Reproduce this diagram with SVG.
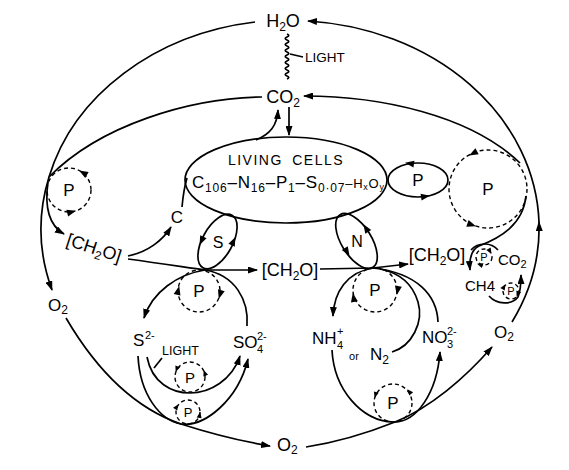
<svg xmlns="http://www.w3.org/2000/svg" width="569" height="470" viewBox="0 0 569 470">
<defs>
<style>
.l{fill:none;stroke:#000;stroke-width:1.7}
.d{fill:none;stroke:#000;stroke-width:1.4;stroke-dasharray:4 3}
.t{font-family:"Liberation Sans",Arial,sans-serif;fill:#000}
.m{marker-end:url(#a)}
</style>
<marker id="a" viewBox="0 0 10 7" refX="9" refY="3.5" markerWidth="10" markerHeight="7" markerUnits="userSpaceOnUse" orient="auto"><path d="M0,0 L10,3.5 L0,7 z"/></marker>
<path id="h" d="M1,0 L-8,-3.5 L-8,3.5 z"/>
<path id="hs" d="M1,0 L-5,-2.5 L-5,2.5 z"/>
</defs>
<rect width="569" height="470" fill="#fff"/>

<g id="connectors">
<!-- outer ellipse arcs -->
<path class="l" d="M255,22 A249,208 0 0 0 49,177"/>
<path class="l m" d="M49,177 A249,208 0 0 0 52,290"/>
<path class="l m" d="M512,322 A249,208 0 0 0 539,222"/>
<path class="l m" d="M539,222 A249,208 0 0 0 308,21"/>
<!-- CO2 arcs -->
<path class="l" d="M262,97 C190,98 100,125 49,177"/>
<path class="l m" d="M520,163 C470,115 380,96 304,96"/>
<!-- light wavy -->
<path class="l" stroke-width="1.2" d="M287,34 q3.5,1.5 0,3 t0,3 t0,3 t0,3 t0,3 t0,3 t0,3 t0,3 t0,3 t0,3 t0,3 t0,3 t0,3 t0,3 t0,3"/>
<path class="l" stroke-width="1" d="M290,54 L303,57"/>
<!-- CO2 <-> cells -->
<path class="l m" d="M256,140 C270,134 277,126 278,110"/>
<path class="l m" d="M289,107 L289,135"/>
<!-- left photosynthesis -->
<path class="l m" d="M48,182 C44,210 50,226 64,234"/>
<path class="l m" d="M128,256 C148,252 163,240 171,227"/>
<path class="l" d="M182,207 C183,196 184,188 187,178"/>
<path class="l m" d="M128,259 C165,264 190,268 205,270 L257,270"/>
<!-- S loop -->
<path class="l m" d="M205,270 C178,274 152,292 144,318"/>
<path class="l" d="M247,326 C249,300 235,275 205,270"/>
<path class="l m" d="M147,357 C152,383 172,393 190,393 C210,393 232,380 240,356"/>
<path class="l m" d="M138,356 C140,395 160,420 181,424 C205,427 238,400 248,359"/>
<path class="l" stroke-width="1" d="M162,358 L154,368"/>
<path class="l m" d="M66,318 C100,376 140,410 181,424 C212,434 240,441 270,446"/>
<!-- middle -->
<path class="l m" d="M320,269 L373,268 L408,264"/>
<!-- N loop -->
<path class="l m" d="M373,268 C347,272 334,292 333,316"/>
<path class="l" d="M438,322 C437,296 418,273 373,268"/>
<path class="l" d="M392,352 C412,346 424,322 418,302 C413,285 400,273 380,269"/>
<path class="l m" d="M332,350 C334,390 362,421 393,422 C417,423 437,392 440,352"/>
<path class="l m" d="M306,447 C345,441 375,430 395,422 C430,408 465,378 492,347"/>
<!-- methane -->
<path class="l m" d="M526,196 C523,225 500,238 479,246 C471,250 469,258 470,270"/>
<path class="l" d="M471,250 C478,242 491,242 498,250"/>
<path class="l m" d="M489,296 C497,305 512,305 518,297 C521,290 521,283 521,275"/>
<!-- ellipse arrowheads -->
<use href="#h" transform="translate(200,244) rotate(115)"/>
<use href="#h" transform="translate(235,238) rotate(-65)"/>
<use href="#h" transform="translate(349,255) rotate(58)"/>
<use href="#h" transform="translate(364,225) rotate(-122)"/>
<use href="#h" transform="translate(406,163) rotate(188)"/>
<use href="#h" transform="translate(429,196) rotate(-8)"/>
<!-- dashed circle arrowheads -->
<use href="#h" transform="translate(80,171) rotate(-150)"/>
<use href="#h" transform="translate(75,211) rotate(-15)"/>
<use href="#h" transform="translate(470,155) rotate(152)"/>
<use href="#h" transform="translate(475,226) rotate(19)"/>
<use href="#h" transform="translate(179,287) rotate(-76)"/>
<use href="#h" transform="translate(219,298) rotate(107)"/>
<use href="#hs" transform="translate(176,371) rotate(110)"/>
<use href="#hs" transform="translate(204,371) rotate(-110)"/>
<use href="#hs" transform="translate(178,405) rotate(-55)"/>
<use href="#hs" transform="translate(200,413) rotate(-80)"/>
<use href="#h" transform="translate(353,294) rotate(-100)"/>
<use href="#h" transform="translate(397,294) rotate(100)"/>
<use href="#hs" transform="translate(375,397) rotate(105)"/>
<use href="#hs" transform="translate(408,390) rotate(-130)"/>
<use href="#hs" transform="translate(491,253) rotate(60)"/>
<use href="#hs" transform="translate(478,264) rotate(200)"/>
<use href="#hs" transform="translate(505,285) rotate(-60)"/>
<use href="#hs" transform="translate(517,296) rotate(110)"/>
</g>

<g id="h2o"><text class="t" x="283" y="27" font-size="18" text-anchor="middle">H<tspan font-size="12" dy="4">2</tspan><tspan dy="-4">O</tspan></text></g>
<g id="light-top"><text class="t" x="305" y="62" font-size="13.5">LIGHT</text></g>
<g id="co2"><text class="t" x="283" y="103" font-size="18" text-anchor="middle">CO<tspan font-size="12" dy="4">2</tspan></text></g>

<g id="living-cells">
<ellipse class="l" cx="286" cy="180" rx="101" ry="43"/>
<text class="t" x="286" y="165" font-size="14" text-anchor="middle" letter-spacing="1.5" word-spacing="4">LIVING CELLS</text>
<text class="t" x="192" y="188" font-size="17" textLength="192" lengthAdjust="spacing">C<tspan font-size="12" dy="4">106</tspan><tspan dy="-4">–N</tspan><tspan font-size="12" dy="4">16</tspan><tspan dy="-4">–P</tspan><tspan font-size="12" dy="4">1</tspan><tspan dy="-4">–S</tspan><tspan font-size="12" dy="4">0·07</tspan><tspan dy="-4" font-size="13">–H</tspan><tspan font-size="9" dy="2">x</tspan><tspan font-size="13" dy="-2">O</tspan><tspan font-size="9" dy="2">y</tspan></text>
</g>

<g id="p-left"><circle class="d" cx="69" cy="190" r="22"/><text class="t" x="69" y="196" font-size="17" text-anchor="middle">P</text></g>
<g id="p-ellipse"><ellipse class="l" cx="418" cy="180" rx="30" ry="17"/><text class="t" x="418" y="186" font-size="17" text-anchor="middle">P</text></g>
<g id="p-right"><circle class="d" cx="488" cy="189" r="39"/><text class="t" x="488" y="195" font-size="17" text-anchor="middle">P</text></g>

<g id="ch2o-left"><text class="t" x="94" y="254" font-size="18" text-anchor="middle" transform="rotate(18 94 248)">[CH<tspan font-size="12" dy="4">2</tspan><tspan dy="-4">O]</tspan></text></g>
<g id="c-label"><text class="t" x="177" y="223" font-size="17" text-anchor="middle">C</text></g>

<g id="s-ellipse"><ellipse class="l" cx="0" cy="0" rx="30" ry="15" transform="translate(217.5,241.5) rotate(-61)"/><text class="t" x="218" y="248" font-size="16" text-anchor="middle">S</text></g>
<g id="n-ellipse"><ellipse class="l" cx="0" cy="0" rx="31" ry="15" transform="translate(356.5,241) rotate(58)"/><text class="t" x="357" y="247" font-size="16" text-anchor="middle">N</text></g>

<g id="ch2o-mid"><text class="t" x="290" y="276" font-size="18" text-anchor="middle">[CH<tspan font-size="12" dy="4">2</tspan><tspan dy="-4">O]</tspan></text></g>
<g id="ch2o-right"><text class="t" x="437" y="261" font-size="18" text-anchor="middle">[CH<tspan font-size="12" dy="4">2</tspan><tspan dy="-4">O]</tspan></text></g>

<g id="p-s-top"><circle class="d" cx="199" cy="291" r="21"/><text class="t" x="199" y="297" font-size="17" text-anchor="middle">P</text></g>
<g id="s2"><text class="t" x="133" y="346" font-size="17">S</text><text class="t" x="145" y="339" font-size="11">2-</text></g>
<g id="so4"><text class="t" x="233" y="348" font-size="17">SO</text><text class="t" x="257" y="340" font-size="11">2-</text><text class="t" x="257" y="353" font-size="11">4</text></g>
<g id="light-low"><text class="t" x="162" y="355" font-size="12.5">LIGHT</text></g>
<g id="p-s-mid"><circle class="d" cx="190" cy="377" r="15"/><text class="t" x="190" y="383" font-size="15" text-anchor="middle">P</text></g>
<g id="p-s-low"><circle class="d" cx="188" cy="412" r="12"/><text class="t" x="188" y="417" font-size="13" text-anchor="middle">P</text></g>

<g id="p-n-top"><circle class="d" cx="375" cy="290" r="22"/><text class="t" x="375" y="296" font-size="17" text-anchor="middle">P</text></g>
<g id="nh4"><text class="t" x="312" y="344" font-size="17">NH</text><text class="t" x="337" y="335" font-size="11">+</text><text class="t" x="337" y="349" font-size="11">4</text></g>
<g id="or"><text class="t" x="354" y="360" font-size="11" text-anchor="middle">or</text></g>
<g id="n2"><text class="t" x="370" y="360" font-size="17">N<tspan font-size="12" dy="4">2</tspan></text></g>
<g id="no3"><text class="t" x="422" y="343" font-size="17">NO</text><text class="t" x="447" y="335" font-size="11">2-</text><text class="t" x="447" y="348" font-size="11">3</text></g>
<g id="p-n-low"><circle class="d" cx="393" cy="403" r="19"/><text class="t" x="393" y="409" font-size="17" text-anchor="middle">P</text></g>

<g id="p-m1"><circle class="d" cx="484" cy="257" r="8"/><text class="t" x="484" y="261" font-size="11" text-anchor="middle">P</text></g>
<g id="co2-right"><text class="t" x="498" y="265" font-size="15">CO<tspan font-size="11" dy="3">2</tspan></text></g>
<g id="ch4"><text class="t" x="465" y="291" font-size="15">CH4</text></g>
<g id="p-m2"><circle class="d" cx="511" cy="291" r="8"/><text class="t" x="511" y="295" font-size="11" text-anchor="middle">P</text></g>

<g id="o2-left"><text class="t" x="48" y="311" font-size="17">O<tspan font-size="12" dy="3">2</tspan></text></g>
<g id="o2-bottom"><text class="t" x="277" y="451" font-size="18">O<tspan font-size="12" dy="3">2</tspan></text></g>
<g id="o2-right"><text class="t" x="494" y="338" font-size="17">O<tspan font-size="12" dy="3">2</tspan></text></g>
</svg>
